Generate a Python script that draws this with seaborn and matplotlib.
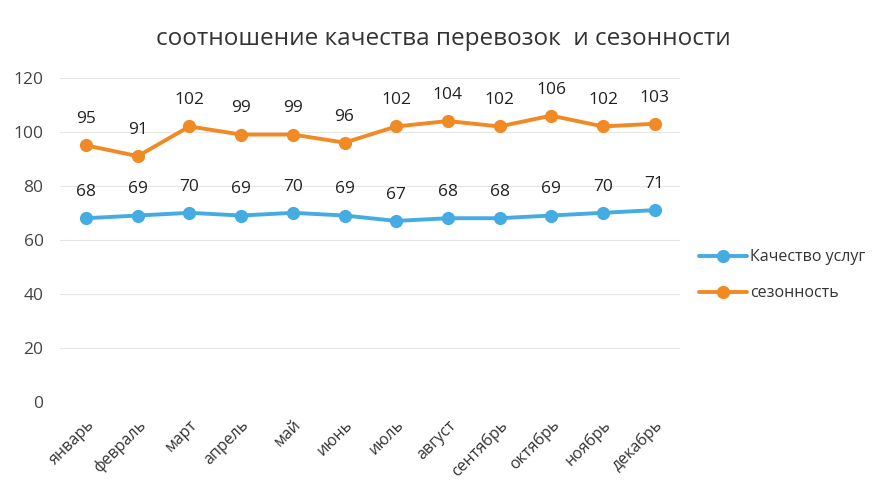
import pandas as pd
import numpy as np
import matplotlib.pyplot as plt
import seaborn as sns

months = ["январь", "февраль", "март", "апрель", "май", "июнь",
          "июль", "август", "сентябрь", "октябрь", "ноябрь", "декабрь"]
quality = [68, 69, 70, 69, 70, 69, 67, 68, 68, 69, 70, 71]
season = [95, 91, 102, 99, 99, 96, 102, 104, 102, 106, 102, 103]
series_names = ["Качество услуг", "сезонность"]
colors = ["#45ABE3", "#F08A24"]

df = pd.DataFrame({
    "month": months * 2,
    "value": quality + season,
    "series": [series_names[0]] * len(months) + [series_names[1]] * len(months),
})

sns.set_style("white")
plt.rcParams["font.family"] = ["Open Sans", "DejaVu Sans"]

fig = plt.figure(figsize=(8.86, 4.96), dpi=100)
ax = fig.add_axes([0.068, 0.19, 0.70, 0.653])

sns.lineplot(data=df, x="month", y="value", hue="series", palette=colors,
             marker="o", markersize=9.5, markeredgewidth=0, linewidth=2.8,
             sort=False, ax=ax)

for vals in (quality, season):
    for i, v in enumerate(vals):
        ax.annotate(str(v), (i, v), xytext=(0, 13), textcoords="offset points",
                    ha="center", va="bottom", fontsize=12.5, color="#222222")

ax.set_ylim(0, 120)
ax.set_yticks(np.arange(0, 121, 20))
ax.set_xlim(-0.5, len(months) - 0.5)
ax.grid(axis="y", color="#e6e6e6", linewidth=0.8)
for s in ax.spines.values():
    s.set_visible(False)
ax.tick_params(axis="both", length=0, labelsize=12.5, colors="#444444")
ax.tick_params(axis="y", pad=12)
ax.tick_params(axis="x", pad=11)
plt.setp(ax.get_xticklabels(), rotation=45, ha="right", rotation_mode="anchor",
         color="#333333", fontsize=11.5)
ax.set_xlabel("")
ax.set_ylabel("")

fig.suptitle("соотношение качества перевозок  и сезонности", x=0.5, y=0.945,
             fontsize=17.5, color="#333333")

ax.legend(loc="center left", bbox_to_anchor=(1.02, 0.39), frameon=False,
          borderaxespad=0, fontsize=11.5, handlelength=3.0, handletextpad=0.2,
          labelspacing=1.25, labelcolor="#333333")

fig.savefig("out.png", dpi=100)
